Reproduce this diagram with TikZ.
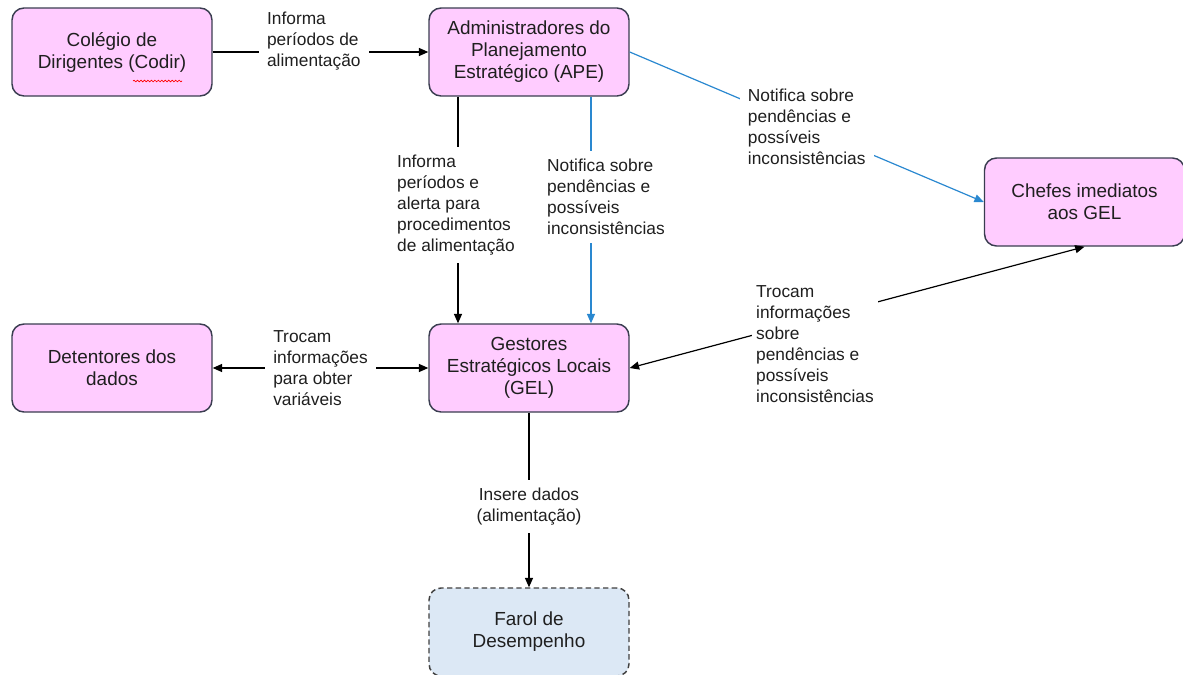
\documentclass[tikz,border=0pt]{standalone}
\usepackage{fontspec}
\setmainfont{Liberation Sans}
\usetikzlibrary{arrows.meta, decorations.pathmorphing}
\definecolor{rolepink}{HTML}{FFCCFF}
\definecolor{roleedge}{HTML}{3A3D50}
\definecolor{farolblue}{HTML}{DCE8F5}
\definecolor{notifyblue}{HTML}{2A88D0}
\tikzset{
	flowtext/.style={font=\fontsize{13pt}{15.75pt}\selectfont, text=black!88}
}
\tikzset{
	boxtext/.style={font=\fontsize{14.2pt}{16.5pt}\selectfont, text=black!88}
}

\begin{document}
\begin{tikzpicture}[x=0.75pt,y=-0.75pt]
	\tikzset{
		rolenode/.style={
				shape=rectangle,
				rounded corners=9pt,
				draw=roleedge,
				line width=1.1pt,
				fill=rolepink,
				minimum width=150pt,
				minimum height=66pt,
				align=center,
				boxtext
			},
		farolnode/.style={rolenode, fill=farolblue, draw=black!75, dash pattern=on 4pt off 2.5pt},
		labeltext/.style={flowtext, fill=white, align=left, inner sep=6pt},
		flow/.style={line width=0.9pt},
		>={Triangle[length=7pt,width=6pt]}
	}
	\useasboundingbox (0,0) rectangle (1183,675);

	\node[rolenode] (codir) at (112,52) {Colégio de\\Dirigentes (Codir)};
	\node[rolenode] (ape) at (529,52) {Administradores do\\Planejamento\\Estratégico (APE)};
	\node[rolenode] (chefes) at (1084.5,202) {Chefes imediatos\\aos GEL};
	\node[rolenode] (detentores) at (112,368) {Detentores dos\\dados};
	\node[rolenode] (gel) at (529,368) {Gestores\\Estratégicos Locais\\(GEL)};
	\node[farolnode] (farol) at (529,632) {Farol de\\Desempenho};

	% marca de ortografia sob "Codir"
	\draw[red, line width=0.5pt, decorate, decoration={snake, amplitude=0.6pt, segment length=2.6pt}]
		([shift={(21,29)}]codir.center) -- ([shift={(70,29)}]codir.center);

	\draw[flow, ->] (codir) -- node[labeltext, xshift=-5pt, yshift=8pt] {Informa\\períodos de\\alimentação} (ape);
	\draw[flow, ->] ([xshift=-53.25pt]ape.south) -- node[labeltext, xshift=-1.5pt, yshift=3.75pt] {Informa\\períodos e\\alerta para\\procedimentos\\de alimentação} ([xshift=-53.25pt]gel.north);
	\draw[flow, ->, notifyblue] ([xshift=46.5pt]ape.south) -- node[labeltext, xshift=11.25pt, yshift=9.75pt] {Notifica sobre\\pendências e\\possíveis\\inconsistências} ([xshift=46.5pt]gel.north);
	\draw[flow, ->, notifyblue] (ape.east) -- node[labeltext] {Notifica sobre\\pendências e\\possíveis\\inconsistências} (chefes.west);
	\draw[flow, <->] (gel.east) -- node[labeltext, pos=0.4, xshift=2.5pt, yshift=-18.75pt, inner xsep=3pt] {Trocam\\informações\\sobre\\pendências e\\possíveis\\inconsistências} (chefes.south);
	\draw[flow, <->] (gel.west) -- node[labeltext] {Trocam\\informações\\para obter\\variáveis} (detentores.east);
	\draw[flow, ->] (gel) -- node[labeltext, align=center, yshift=-5pt] {Insere dados\\(alimentação)} (farol);
\end{tikzpicture}
\end{document}
